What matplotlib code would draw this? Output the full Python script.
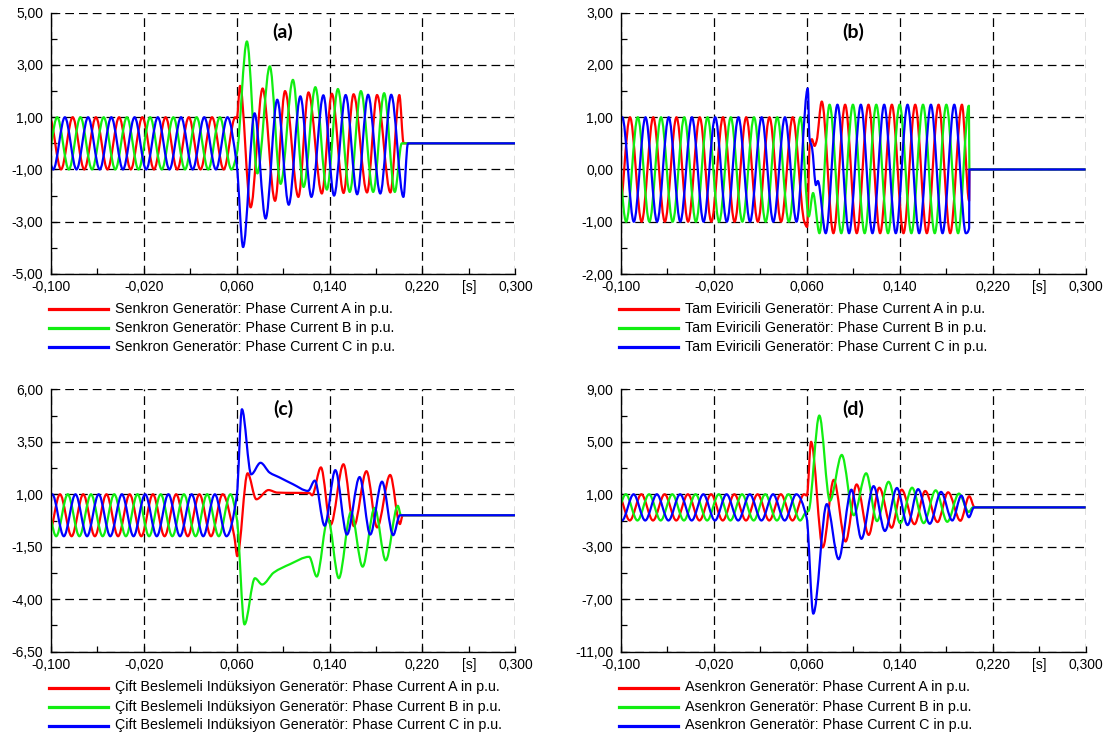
import numpy as np
import matplotlib
matplotlib.use("Agg")
import matplotlib.pyplot as plt
from matplotlib.path import Path
from matplotlib.patches import PathPatch
from matplotlib.lines import Line2D
from matplotlib.ticker import FixedLocator, FuncFormatter

plt.rcParams['font.family'] = ['Liberation Sans', 'DejaVu Sans']

# ---------------- data (times in ms, values in p.u.) ----------------
# Panel (a) Senkron Generatör
a_red_t = [-101.1, -91.1, -81.1, -71.1, -61.1, -51.1, -41.1, -31.1, -21.1, -11.1, -1.1, 8.9, 18.9, 28.9, 38.9, 48.9, 58.9,
           60.2, 63.0, 72.1, 82.4, 93.1, 101.7, 113.2, 121.9, 133.4, 142.0, 152.1, 160.7, 172.3, 180.9, 192.4, 200.1, 203.8, 300]
a_red_v = [1, -1, 1, -1, 1, -1, 1, -1, 1, -1, 1, -1, 1, -1, 1, -1, 1,
           0.95, 2.2, -2.45, 2.1, -2.2, 2.0, -2.05, 1.95, -1.92, 1.9, -1.9, 1.88, -1.88, 1.85, -1.88, 1.85, 0, 0]
a_green_t = [-104.4, -94.4, -84.4, -74.4, -64.4, -54.4, -44.4, -34.4, -24.4, -14.4, -4.4, 5.6, 15.6, 25.6, 35.6, 45.6, 55.6,
             60.2, 68.9, 77.9, 88.6, 97.9, 108.5, 117.7, 127.8, 137.7, 147.2, 157.4, 167.0, 177.6, 187.0, 196.2, 202.2, 300]
a_green_v = [-1, 1, -1, 1, -1, 1, -1, 1, -1, 1, -1, 1, -1, 1, -1, 1, -1,
             -0.4, 3.9, -1.15, 2.95, -1.55, 2.43, -1.67, 2.15, -1.77, 2.08, -1.86, 2.0, -1.86, 1.92, -1.86, 0, 0]
a_blue_t = [-107.8, -97.8, -87.8, -77.8, -67.8, -57.8, -47.8, -37.8, -27.8, -17.8, -7.8, 2.2, 12.2, 22.2, 32.2, 42.2, 52.2,
            60.2, 65.6, 75.5, 85.0, 95.0, 104.9, 114.9, 124.4, 134.7, 143.9, 153.9, 163.8, 173.2, 183.7, 193.1, 203.6, 207.5, 300]
a_blue_v = [1, -1, 1, -1, 1, -1, 1, -1, 1, -1, 1, -1, 1, -1, 1, -1, 1,
            -0.85, -3.97, 1.15, -2.88, 1.67, -2.35, 1.8, -2.05, 1.84, -2.0, 1.85, -1.95, 1.86, -1.92, 1.86, -2.05, 0, 0]

# Panel (b) Tam Eviricili Generatör
b_red_t = [-102, -92, -82, -72, -62, -52, -42, -32, -22, -12, -2, 8, 18, 28, 38, 48, 58,
           60.4, 62.6, 64.5, 66.8, 68.6, 73.0, 83.0, 93.1, 103.1, 113.2, 123.2, 133.3, 143.3, 153.4, 163.4, 173.5, 183.5, 193.6, 199.8, 200.0, 300]
b_red_v = [-1, 1, -1, 1, -1, 1, -1, 1, -1, 1, -1, 1, -1, 1, -1, 1, -1,
           -1.1, 0.45, 0.58, 0.45, 0.55, 1.3, -1.22, 1.24, -1.22, 1.24, -1.22, 1.24, -1.22, 1.24, -1.22, 1.24, -1.22, 1.24, -0.6, 0, 0]
b_green_t = [-105.3, -95.3, -85.3, -75.3, -65.3, -55.3, -45.3, -35.3, -25.3, -15.3, -5.3, 4.7, 14.7, 24.7, 34.7, 44.7, 54.7,
             61.8, 65.5, 71.0, 79.7, 89.8, 99.8, 109.9, 119.9, 130.0, 140.0, 150.1, 160.1, 170.2, 180.2, 190.3, 199.6, 200.0, 300]
b_green_v = [1, -1, 1, -1, 1, -1, 1, -1, 1, -1, 1, -1, 1, -1, 1, -1, 1,
             -0.9, -0.45, -1.22, 1.24, -1.22, 1.24, -1.22, 1.24, -1.22, 1.24, -1.22, 1.24, -1.22, 1.24, -1.22, 1.22, 0, 0]
b_blue_t = [-108.7, -98.7, -88.7, -78.7, -68.7, -58.7, -48.7, -38.7, -28.7, -18.7, -8.7, 1.3, 11.3, 21.3, 31.3, 41.3, 51.3,
            61.0, 62.4, 64.6, 68.0, 69.6, 76.4, 86.5, 96.5, 106.6, 116.6, 126.7, 136.7, 146.8, 156.8, 166.9, 176.9, 187.0, 197.0, 199.8, 200.0, 300]
b_blue_v = [-1, 1, -1, 1, -1, 1, -1, 1, -1, 1, -1, 1, -1, 1, -1, 1, -1,
            1.55, 0.6, 0.42, -0.3, -0.22, -1.22, 1.24, -1.22, 1.24, -1.22, 1.24, -1.22, 1.24, -1.22, 1.24, -1.22, 1.24, -1.22, -1.12, 0, 0]

# Panel (c) Çift Beslemeli Indüksiyon Generatör
c_red_t = [-102, -92, -82, -72, -62, -52, -42, -32, -22, -12, -2, 8, 18, 28, 38, 48, 58,
           60.6, 69.5, 77.0, 87.5, 95.0, 123.0, 125.0, 132.6, 141.0, 152.0, 161.0, 171.8, 181.0, 192.2, 200.6, 203.0, 300]
c_red_v = [-1, 1, -1, 1, -1, 1, -1, 1, -1, 1, -1, 1, -1, 1, -1, 1, -1,
           -1.95, 2.0, 0.76, 1.2, 1.08, 1.05, 0.95, 2.28, -0.45, 2.43, -0.52, 2.1, -0.58, 1.92, -0.42, 0, 0]
c_green_t = [-105.3, -95.3, -85.3, -75.3, -65.3, -55.3, -45.3, -35.3, -25.3, -15.3, -5.3, 4.7, 14.7, 24.7, 34.7, 44.7, 54.7,
             60.3, 66.8, 75.8, 82.0, 92.0, 106.0, 122.5, 129.0, 138.6, 148.0, 158.5, 168.5, 178.8, 188.4, 198.8, 201.5, 300]
c_green_v = [1, -1, 1, -1, 1, -1, 1, -1, 1, -1, 1, -1, 1, -1, 1, -1, 1,
             -0.2, -5.2, -3.0, -3.3, -2.73, -2.33, -1.98, -2.92, -0.15, -3.0, 0.15, -2.45, 0.35, -2.15, 0.45, 0, 0]
c_blue_t = [-108.7, -98.7, -88.7, -78.7, -68.7, -58.7, -48.7, -38.7, -28.7, -18.7, -8.7, 1.3, 11.3, 21.3, 31.3, 41.3, 51.3,
            60.2, 64.6, 72.6, 80.6, 88.5, 97.0, 108.5, 121.5, 127.3, 135.8, 145.0, 155.0, 165.9, 175.0, 185.2, 194.8, 200.6, 300]
c_blue_v = [-1, 1, -1, 1, -1, 1, -1, 1, -1, 1, -1, 1, -1, 1, -1, 1, -1,
            0.95, 5.05, 1.95, 2.5, 2.03, 1.8, 1.48, 1.16, 1.65, -0.5, 2.15, -0.92, 1.82, -0.92, 1.6, -0.95, 0, 0]

# Panel (d) Asenkron Generatör
d_red_t = [-102.2, -92.2, -82.2, -72.2, -62.2, -52.2, -42.2, -32.2, -22.2, -12.2, -2.2, 7.8, 17.8, 27.8, 37.8, 47.8, 57.8,
           60.2, 63.8, 73.9, 83.3, 93.5, 103.0, 113.4, 122.5, 133.1, 141.7, 152.8, 162.0, 172.6, 181.7, 192.3, 199.9, 204.5, 300]
d_red_v = [1, -1, 1, -1, 1, -1, 1, -1, 1, -1, 1, -1, 1, -1, 1, -1, 1,
           0.9, 5.0, -3.05, 2.1, -2.6, 1.75, -2.1, 1.5, -1.55, 1.35, -1.28, 1.25, -1.12, 1.15, -1.02, 0.85, 0, 0]
d_green_t = [-105.6, -95.6, -85.6, -75.6, -65.6, -55.6, -45.6, -35.6, -25.6, -15.6, -5.6, 4.4, 14.4, 24.4, 34.4, 44.4, 54.4,
             59.5, 61.5, 70.9, 80.0, 90.2, 100.5, 111.2, 120.5, 130.5, 140.5, 150.7, 160.7, 171.0, 181.0, 191.0, 199.5, 203.0, 300]
d_green_v = [-1, 1, -1, 1, -1, 1, -1, 1, -1, 1, -1, 1, -1, 1, -1, 1, -1,
             -0.35, -0.28, 7.0, 0.5, 4.0, -0.6, 2.6, -1.05, 1.95, -1.2, 1.5, -1.2, 1.3, -1.1, 1.05, -0.35, 0, 0]
d_blue_t = [-108.9, -98.9, -88.9, -78.9, -68.9, -58.9, -48.9, -38.9, -28.9, -18.9, -8.9, 1.1, 11.1, 21.1, 31.1, 41.1, 51.1,
            60.0, 65.7, 77.3, 87.5, 98.5, 107.1, 117.6, 127.3, 137.7, 146.8, 155.9, 165.9, 175.6, 185.3, 193.1, 199.6, 204.0, 300]
d_blue_v = [1, -1, 1, -1, 1, -1, 1, -1, 1, -1, 1, -1, 1, -1, 1, -1, 1,
            -0.8, -8.1, 0.25, -3.95, 1.35, -2.4, 1.62, -1.8, 1.48, -1.35, 1.39, -1.25, 1.18, -1.0, 0.9, -0.75, 0, 0]

x_ticks = [-0.100, -0.020, 0.060, 0.140, 0.220, 0.300]
x_minor = [-0.060, 0.020, 0.100, 0.180, 0.260]

a_yticks = [-5, -3, -1, 1, 3, 5]
b_yticks = [-2, -1, 0, 1, 2, 3]
c_yticks = [-6.5, -4, -1.5, 1, 3.5, 6]
d_yticks = [-11, -7, -3, 1, 5, 9]

names = ["Senkron Generatör", "Tam Eviricili Generatör",
         "Çift Beslemeli Indüksiyon Generatör", "Asenkron Generatör"]
panel_labels = ["(a)", "(b)", "(c)", "(d)"]
phases = ["A", "B", "C"]
colors = ["#ff0000", "#11ee11", "#0000ff"]

# ---------------- helpers ----------------
def pchip_slopes(x, y):
    h = np.diff(x)
    m = np.diff(y) / h
    d = np.zeros_like(y)
    for k in range(1, len(x) - 1):
        if m[k - 1] * m[k] > 0:
            w1 = 2 * h[k] + h[k - 1]
            w2 = h[k] + 2 * h[k - 1]
            d[k] = (w1 + w2) / (w1 / m[k - 1] + w2 / m[k])
    return d


def curve_path(t_ms, v):
    x = np.asarray(t_ms, float) / 1000.0
    y = np.asarray(v, float)
    d = pchip_slopes(x, y)
    verts = [(x[0], y[0])]
    codes = [Path.MOVETO]
    for k in range(len(x) - 1):
        h = x[k + 1] - x[k]
        verts += [(x[k] + h / 3, y[k] + d[k] * h / 3),
                  (x[k + 1] - h / 3, y[k + 1] - d[k + 1] * h / 3),
                  (x[k + 1], y[k + 1])]
        codes += [Path.CURVE4] * 3
    return Path(verts, codes)


W, H = 1113, 738
fig = plt.figure(figsize=(W / 100, H / 100), dpi=100)

def fx(px):
    return px / W

def fy(py):
    return 1 - py / H

panels = [
    (50.7, 515.4, 12.7, 274.0, a_yticks,
     [(a_red_t, a_red_v), (a_green_t, a_green_v), (a_blue_t, a_blue_v)]),
    (620.7, 1085.6, 12.7, 274.0, b_yticks,
     [(b_red_t, b_red_v), (b_green_t, b_green_v), (b_blue_t, b_blue_v)]),
    (50.7, 515.4, 389.3, 651.7, c_yticks,
     [(c_red_t, c_red_v), (c_green_t, c_green_v), (c_blue_t, c_blue_v)]),
    (620.7, 1085.6, 389.3, 651.7, d_yticks,
     [(d_red_t, d_red_v), (d_green_t, d_green_v), (d_blue_t, d_blue_v)]),
]

xfmt = FuncFormatter(lambda v, p: f"{v:.3f}".replace('.', ','))
yfmt = FuncFormatter(lambda v, p: f"{v:.2f}".replace('.', ','))

for i, (l, r, t, b, yt, series) in enumerate(panels):
    ax = fig.add_axes([fx(l), fy(b), fx(r) - fx(l), fy(t) - fy(b)])
    ax.set_axisbelow(True)
    for (tt, vv), c in zip(series, colors):
        ax.add_patch(PathPatch(curve_path(tt, vv), facecolor='none', edgecolor=c,
                               lw=1.6, joinstyle='round', zorder=3))
    ax.set_xlim(x_ticks[0], x_ticks[-1])
    ax.set_ylim(yt[0], yt[-1])
    ax.xaxis.set_major_locator(FixedLocator(x_ticks))
    ax.xaxis.set_minor_locator(FixedLocator(x_minor))
    ystep = yt[1] - yt[0]
    ax.yaxis.set_major_locator(FixedLocator(yt))
    ax.yaxis.set_minor_locator(FixedLocator([v + ystep / 2 for v in yt[:-1]]))
    ax.xaxis.set_major_formatter(xfmt)
    ax.yaxis.set_major_formatter(yfmt)
    ax.grid(True, which='major', color='black', lw=0.9, linestyle=(0, (7, 4)))
    ax.tick_params(which='both', direction='in', length=4, width=0.9, color='black',
                   labelsize=10, top=False, right=False)
    ax.tick_params(axis='x', pad=4.5)
    ax.tick_params(axis='y', pad=5.5)
    for s in ['top', 'right']:
        ax.spines[s].set_visible(False)
    for s in ['left', 'bottom']:
        ax.spines[s].set_linewidth(1.0)
        ax.spines[s].set_zorder(4)
    ax.annotate('[s]', xy=(0.26, 0), xycoords=('data', 'axes fraction'),
                xytext=(0, -4.5), textcoords='offset points', ha='center', va='top', fontsize=10)
    ax.text(0.5, 0.927, panel_labels[i], transform=ax.transAxes, ha='center', va='center',
            fontsize=14, fontweight='bold', family=['Lato', 'DejaVu Sans'])

    # legend
    lx0 = l - 1.5
    lx1 = lx0 + 59
    rows = [308.5, 328.0, 347.5] if t < 100 else [687.5, 706.5, 725.5]
    for ph, c, ry in zip(phases, colors, rows):
        fig.add_artist(Line2D([fx(lx0), fx(lx1)], [fy(ry), fy(ry)], color=c, lw=2.3,
                              transform=fig.transFigure))
        fig.text(fx(lx1 + 7), fy(ry), f"{names[i]}: Phase Current {ph} in p.u.",
                 ha='left', va='center', fontsize=10.3)

fig.savefig("out.png", dpi=100)
